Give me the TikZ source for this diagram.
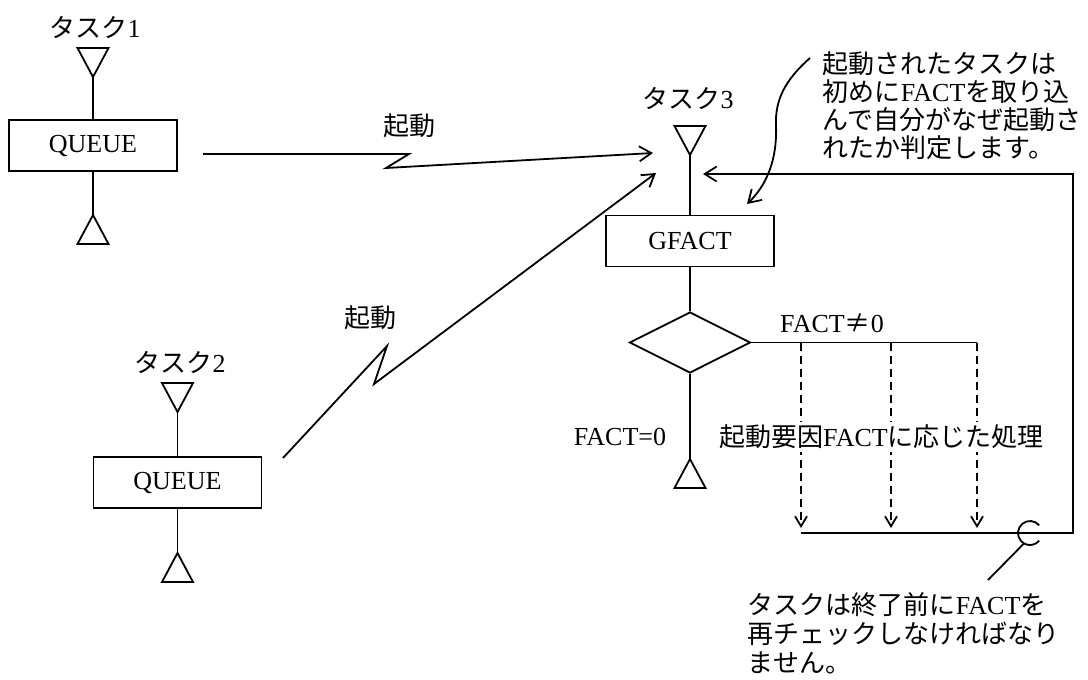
\documentclass[tikz,border=0pt]{standalone}
\usepackage{fontspec}
\setmainfont{Liberation Serif}
\newfontfamily\jp{Noto Sans CJK JP}
\usetikzlibrary{shapes.geometric,arrows.meta,calc}
\begin{document}
\begin{tikzpicture}[x=1pt,y=-1pt,line width=1.8pt,
  every node/.style={font=\fontsize{26}{28}\selectfont},
  box/.style={draw,minimum width=168pt,minimum height=51pt,inner sep=0pt},
  cond/.style={diamond,draw,minimum width=121pt,minimum height=61pt,inner sep=0pt},
  arr/.style={-{Straight Barb[length=12pt,width=15pt]}},
  darr/.style={-{Straight Barb[length=10pt,width=12pt]}},
  lbl/.style={inner sep=0pt},
  dsh/.style={dash pattern=on 8pt off 5pt},
  tridown/.pic={\draw (0,0) -- (-15.5,-29) -- (15.5,-29) -- cycle;},
  triup/.pic={\draw (0,0) -- (-15.5,29) -- (15.5,29) -- cycle;}]
\useasboundingbox (0,0) rectangle (1088,680);
\fill[white] (0,0) rectangle (1088,680);

% Task 1
\node[lbl] (t1) at (95,27) {{\jp タスク}1};
\coordinate (t1d) at (93,77);
\pic at (t1d) {tridown};
\node[box] (q1) at (93,145.5) {QUEUE};
\coordinate (t1u) at (93,215);
\pic at (t1u) {triup};
\draw (t1d) -- (q1.north);
\draw (q1.south) -- (t1u);

% Task 2
\node[lbl] (t2) at (180,362) {{\jp タスク}2};
\coordinate (t2d) at (177.5,412);
\pic at (t2d) {tridown};
\node[box] (q2) at (177.5,482.5) {QUEUE};
\coordinate (t2u) at (177.5,553);
\pic at (t2u) {triup};
\draw (t2d) -- (q2.north);
\draw (q2.south) -- (t2u);

% Task 3
\node[lbl] (t3) at (688,98) {{\jp タスク}3};
\coordinate (t3d) at (690,155);
\pic at (t3d) {tridown};
\node[box] (g) at (690,241) {GFACT};
\node[cond] (d) at (690,342.5) {};
\coordinate (t3u) at (690,459);
\pic at (t3u) {triup};
\draw (t3d) -- (g.north);
\draw (g.south) -- (d.north);
\draw (d.south) -- (t3u);
\node[lbl] (f0) at (620,437) {FACT=0};

% launches
\node[lbl] (k1) at (409,126) {\jp 起動};
\node[lbl] (k2) at (370,318) {\jp 起動};
\coordinate (l1a) at (203,154);
\coordinate (l1b) at (653,153);
\draw[arr] (l1a) -- (409,154) -- (386,168) -- (l1b);
\coordinate (l2a) at (283,458);
\coordinate (l2b) at (656,173);
\draw[arr] (l2a) -- (387,346) -- (374,384) -- (l2b);

% branch
\coordinate (b1) at (801,342.5);
\coordinate (b2) at (891,342.5);
\coordinate (b3) at (977,342.5);
\draw (d.east) -- (b3);
\node[lbl] (fn) at (832,323) {FACT{\jp ≠}0};
\coordinate (e1) at (801,533);
\coordinate (e2) at (891,533);
\coordinate (e3) at (977,533);
\draw[dsh,darr] (b1) -- ([yshift=5pt]e1);
\draw[dsh,darr] (b2) -- ([yshift=5pt]e2);
\draw[dsh,darr] (b3) -- ([yshift=5pt]e3);
\node[lbl,fill=white,inner sep=3pt] (proc) at (881.5,437) {{\jp 起動要因}FACT{\jp に応じた処理}};

% feedback
\coordinate (c1) at (1073,533);
\coordinate (c2) at (1073,174);
\coordinate (fbt) at (703,174);
\draw[arr] (e1) -- (c1) -- (c2) -- (fbt);

% C mark and note
\coordinate (cm) at (1030,533);
\draw ($(cm)+(-40:12)$) arc[start angle=-40,end angle=-320,radius=12];
\coordinate (lb) at (988,580);
\draw (lb) -- ($(cm)+(120:12)$);
\node[lbl,anchor=north west,align=left,font=\fontsize{26}{29}\selectfont] (ann2) at (747,592)
  {{\jp タスクは終了前に}FACT{\jp を}\\{\jp 再チェックしなければなり}\\{\jp ません。}};

% top note
\coordinate (ca) at (810,58);
\coordinate (cb) at (747,204);
\draw[arr] (ca) .. controls (785,80) and (775,100) .. (776,125) .. controls (777,150) and (772,180) .. (cb);
\node[lbl,anchor=north west,align=left] (ann1) at (822,51)
  {{\jp 起動されたタスクは}\\{\jp 初めに}FACT{\jp を取り込}\\{\jp んで自分がなぜ起動さ}\\{\jp れたか判定します。}};
\end{tikzpicture}
\end{document}
